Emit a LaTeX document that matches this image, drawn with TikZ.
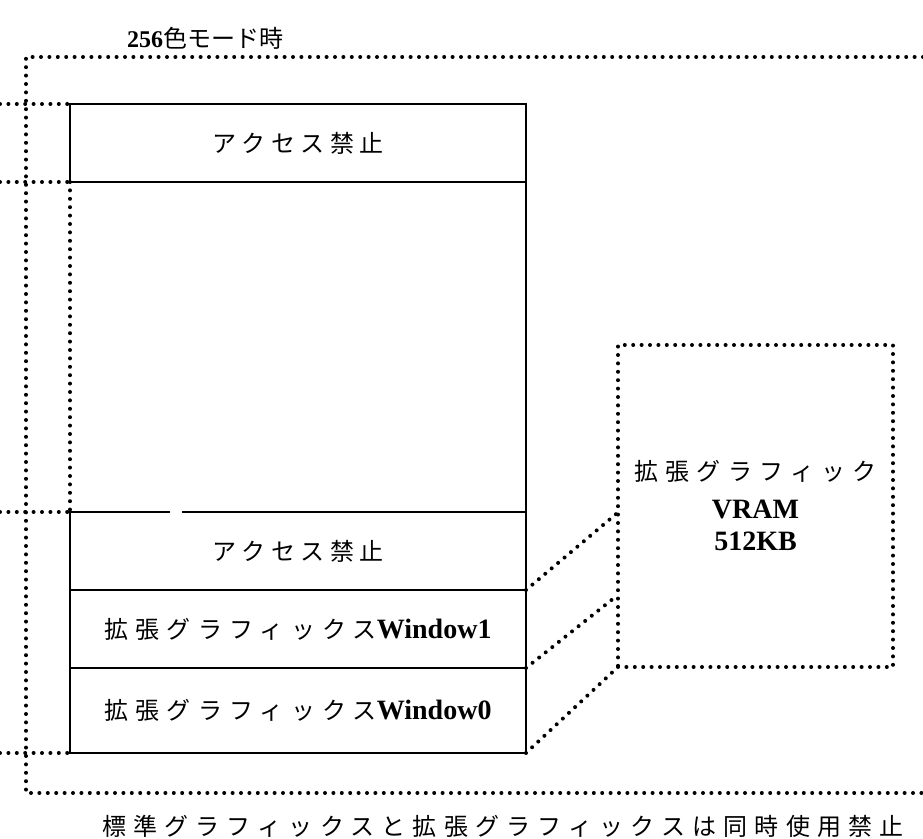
\documentclass[tikz,border=0pt]{standalone}
\usepackage{fontspec}
\setmainfont{Liberation Serif}
\newfontfamily\jp[LetterSpace=30]{Noto Sans CJK JP}
\newfontfamily\jpn{Noto Sans CJK JP}
\usetikzlibrary{calc}
\tikzset{
 dotline/.style={line width=2pt,line cap=round,dash pattern=on 0pt off 4.2pt},
 memrow/.style={draw,line width=1.2pt,minimum width=228pt,inner sep=0pt,outer sep=0pt,anchor=north west},
 every node/.style={font=\fontsize{12}{14}\selectfont},
}
\begin{document}
\begin{tikzpicture}[x=0.5pt,y=-0.5pt]
 \useasboundingbox (0,0) rectangle (923,839);
 % outer frame
 \draw[dotline] (923,57)--(26,57)--(26,793)--(923,793);
 \node (mode) at (205,38) {\bfseries 256{\mdseries\jpn 色モード時}};
 % memory map
 \node[memrow,minimum height=39pt] (r1) at (70,104) {\jpn ア ク セ ス 禁 止};
 \node[memrow,minimum height=39pt] (r3) at (70,512) {\jpn ア ク セ ス 禁 止};
 \node[memrow,minimum height=39pt] (r4) at (70,590) {{\jp 拡張グラフィックス}\bfseries\fontsize{14}{16}\selectfont Window1};
 \node[memrow,minimum height=42.5pt] (r5) at (70,668) {{\jp 拡張グラフィックス}\bfseries\fontsize{14}{16}\selectfont Window0};
 \draw[line width=1.2pt] (r1.south east)--(r3.north east);
 \draw[dotline] (r1.south west)--(r3.north west);
 \fill[white] (170,506) rectangle (182,518);
 % left marks
 \coordinate (s1) at (0,104);
 \coordinate (s2) at (0,182);
 \coordinate (s3) at (0,512);
 \coordinate (s4) at (0,753);
 \draw[dotline] (s1)--(r1.north west);
 \draw[dotline] (s2)--(r1.south west);
 \draw[dotline] (s3)--(r3.north west);
 \draw[dotline] (s4)--(r5.south west);
 % extended vram
 \node[draw,dotline,minimum width=137.5pt,minimum height=161pt,anchor=north west,align=center,inner sep=0pt,outer sep=0pt] (vram) at (618,345)
  {{\jp 拡張グラフィック}\\[5pt] {\bfseries\fontsize{14}{16}\selectfont VRAM}\\[2pt] {\bfseries\fontsize{14}{16}\selectfont 512KB}};
 \coordinate (v1) at ($(vram.north west)!0.52!(vram.south west)$);
 \coordinate (v2) at ($(vram.north west)!0.776!(vram.south west)$);
 \draw[dotline] (r3.south east)--(v1);
 \draw[dotline] (r4.south east)--(v2);
 \draw[dotline] (r5.south east)--(vram.south west);
 \node (note) at (503,826) {\jp 標準グラフィックスと拡張グラフィックスは同時使用禁止};
\end{tikzpicture}
\end{document}
